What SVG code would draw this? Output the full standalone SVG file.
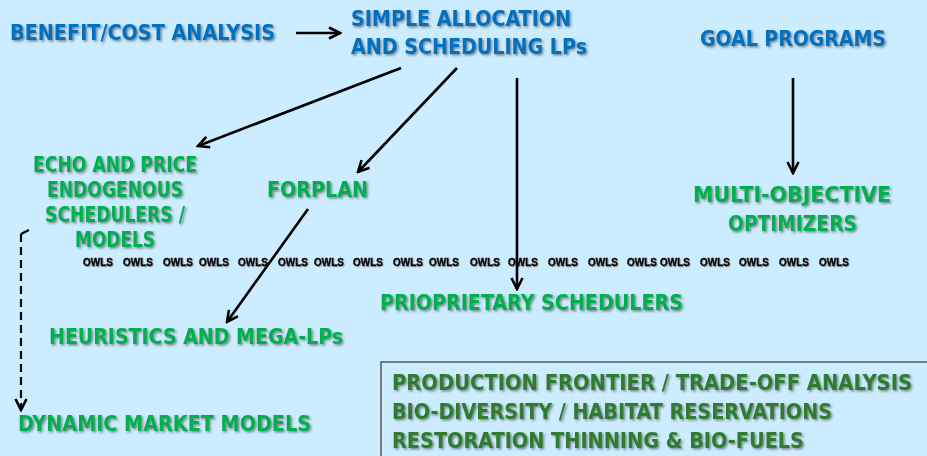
<svg xmlns="http://www.w3.org/2000/svg" width="927" height="456" viewBox="0 0 927 456">
<style>
  .t { font-family: "DejaVu Sans Condensed", "DejaVu Sans", "Liberation Sans", sans-serif; font-weight: bold; font-size: 22px; filter: url(#sh); }
  .blue { fill: #0070C0; }
  .green { fill: #00B050; }
  .dk { fill: #2E7D2E; }
  .owl { font-family: "Liberation Sans", Arial, sans-serif; font-weight: 900; font-size: 10px; fill: #000; stroke: #000; stroke-width: 0.4; filter: url(#sh2); }
  .c { stroke: #000; stroke-width: 2.6; fill: none; marker-end: url(#ah); }
</style>
<defs>
  <filter id="sh" x="-5%" y="-30%" width="110%" height="160%">
    <feDropShadow dx="1.5" dy="1.5" stdDeviation="0.8" flood-color="#333" flood-opacity="0.55"/>
  </filter>
  <filter id="sh2" x="-10%" y="-30%" width="120%" height="160%">
    <feDropShadow dx="1" dy="1" stdDeviation="0.6" flood-color="#666" flood-opacity="0.5"/>
  </filter>
  <marker id="ah" viewBox="0 0 14 14" refX="12" refY="7" markerWidth="14" markerHeight="14" markerUnits="userSpaceOnUse" orient="auto">
    <path d="M1,1.5 L12,7 L1,12.5" fill="none" stroke="#000" stroke-width="2.6"/>
  </marker>
</defs>
<rect width="927" height="456" fill="#CCECFF"/>

<g id="benefit"><text class="t blue" x="10" y="40" textLength="265" lengthAdjust="spacingAndGlyphs">BENEFIT/COST ANALYSIS</text></g>
<g id="simple">
  <text class="t blue" x="351" y="26" textLength="220" lengthAdjust="spacingAndGlyphs">SIMPLE ALLOCATION</text>
  <text class="t blue" x="351" y="54" textLength="236" lengthAdjust="spacingAndGlyphs">AND SCHEDULING LPs</text>
</g>
<g id="goal"><text class="t blue" x="700" y="46" textLength="186" lengthAdjust="spacingAndGlyphs">GOAL PROGRAMS</text></g>
<g id="echo">
  <text class="t green" x="33" y="172" textLength="164" lengthAdjust="spacingAndGlyphs">ECHO AND PRICE</text>
  <text class="t green" x="47" y="197" textLength="136" lengthAdjust="spacingAndGlyphs">ENDOGENOUS</text>
  <text class="t green" x="45" y="222" textLength="140" lengthAdjust="spacingAndGlyphs">SCHEDULERS /</text>
  <text class="t green" x="75" y="247" textLength="80" lengthAdjust="spacingAndGlyphs">MODELS</text>
</g>
<g id="forplan"><text class="t green" x="267" y="197" textLength="101" lengthAdjust="spacingAndGlyphs">FORPLAN</text></g>
<g id="multi">
  <text class="t green" x="693" y="202" textLength="198" lengthAdjust="spacingAndGlyphs">MULTI-OBJECTIVE</text>
  <text class="t green" x="728" y="231" textLength="129" lengthAdjust="spacingAndGlyphs">OPTIMIZERS</text>
</g>
<g id="owls">
  <text class="owl" x="83" y="266">OWLS</text>
  <text class="owl" x="123" y="266">OWLS</text>
  <text class="owl" x="163" y="266">OWLS</text>
  <text class="owl" x="199" y="266">OWLS</text>
  <text class="owl" x="238" y="266">OWLS</text>
  <text class="owl" x="278" y="266">OWLS</text>
  <text class="owl" x="314" y="266">OWLS</text>
  <text class="owl" x="353" y="266">OWLS</text>
  <text class="owl" x="393" y="266">OWLS</text>
  <text class="owl" x="429" y="266">OWLS</text>
  <text class="owl" x="470" y="266">OWLS</text>
  <text class="owl" x="508" y="266">OWLS</text>
  <text class="owl" x="548" y="266">OWLS</text>
  <text class="owl" x="588" y="266">OWLS</text>
  <text class="owl" x="627" y="266">OWLS</text>
  <text class="owl" x="660" y="266">OWLS</text>
  <text class="owl" x="700" y="266">OWLS</text>
  <text class="owl" x="739" y="266">OWLS</text>
  <text class="owl" x="779" y="266">OWLS</text>
  <text class="owl" x="819" y="266">OWLS</text>
</g>
<g id="priopr"><text class="t green" x="380" y="310" textLength="303" lengthAdjust="spacingAndGlyphs">PRIOPRIETARY SCHEDULERS</text></g>
<g id="heuristics"><text class="t green" x="49" y="344" textLength="294" lengthAdjust="spacingAndGlyphs">HEURISTICS AND MEGA-LPs</text></g>
<g id="dynamic"><text class="t green" x="18" y="431" textLength="293" lengthAdjust="spacingAndGlyphs">DYNAMIC MARKET MODELS</text></g>
<g id="applications">
  <rect x="381" y="362" width="560" height="110" fill="none" stroke="#555" stroke-width="1.5"/>
  <text class="t dk" x="392" y="390" textLength="520" lengthAdjust="spacingAndGlyphs">PRODUCTION FRONTIER / TRADE-OFF ANALYSIS</text>
  <text class="t dk" x="392" y="419" textLength="440" lengthAdjust="spacingAndGlyphs">BIO-DIVERSITY / HABITAT RESERVATIONS</text>
  <text class="t dk" x="392" y="448" textLength="412" lengthAdjust="spacingAndGlyphs">RESTORATION THINNING &amp; BIO-FUELS</text>
</g>
<g id="connectors">
  <line class="c" x1="296" y1="33" x2="340" y2="33"/>
  <line class="c" x1="401" y1="68" x2="198" y2="146"/>
  <line class="c" x1="457" y1="68" x2="358" y2="172"/>
  <line class="c" x1="517" y1="78" x2="517" y2="289"/>
  <line class="c" x1="793" y1="78" x2="793" y2="173"/>
  <line class="c" x1="308" y1="209" x2="227" y2="322"/>
  <path d="M29,230 L21,234" stroke="#000" stroke-width="2.2" fill="none"/>
  <path d="M21,234 L21,410" stroke="#000" stroke-width="2.2" fill="none" stroke-dasharray="8,5" marker-end="url(#ah)"/>
</g>
</svg>
